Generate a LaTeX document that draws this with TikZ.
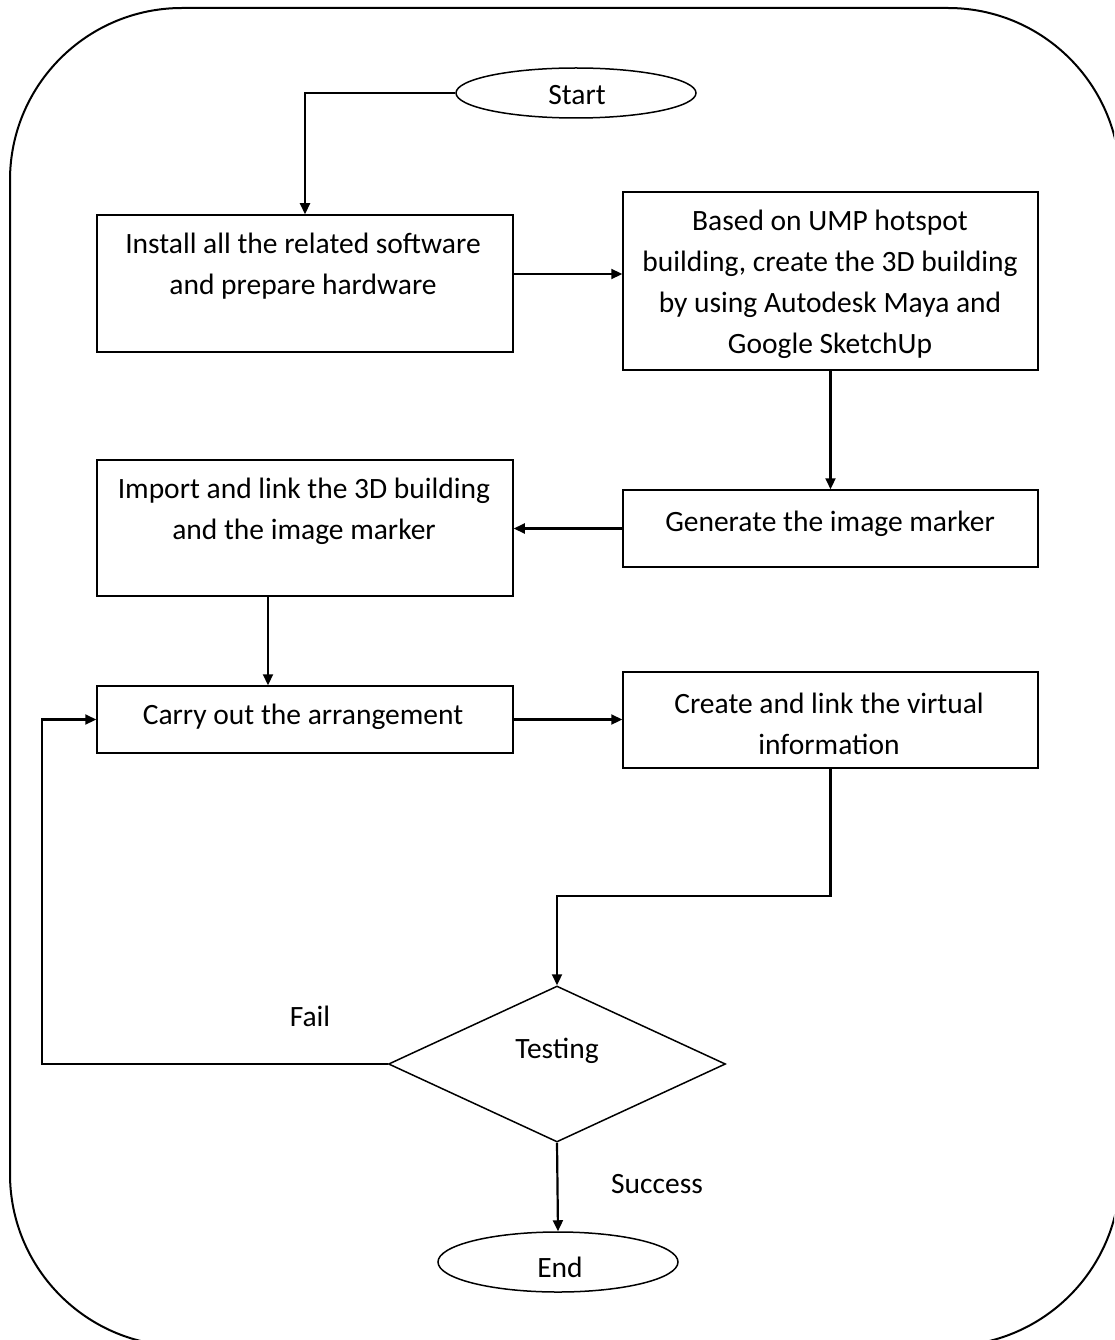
\documentclass[tikz,border=0pt]{standalone}
\usepackage{fontspec}
\setmainfont{Carlito}
\usetikzlibrary{shapes.geometric,arrows.meta}
\begin{document}
\begin{tikzpicture}[x=1pt,y=-1pt,
  box/.style={draw,line width=1.5pt,rectangle,inner sep=0pt},
  term/.style={draw,line width=1.5pt,ellipse,inner sep=0pt,minimum width=240pt},
  txt/.style={align=center,font=\fontsize{29.5}{41}\selectfont,inner sep=0pt},
  arr/.style={line width=2.2pt,-{Triangle[length=11pt,width=10pt]}},
  ln/.style={line width=2.2pt}]
\useasboundingbox (0,0) rectangle (1114,1340);
\clip (0,0) rectangle (1114,1340);
\fill[white] (0,0) rectangle (1114,1340);
\draw[line width=2pt,rounded corners=172pt] (10,8) rectangle (1120,1346);

\node[term,minimum height=50pt] (start) at (576,93) {};
\node[txt] at (577,95) {Start};

\node[box,minimum width=416pt,minimum height=137pt] (b1) at (305,283.5) {};
\node[txt] at (303,266) {Install all the related software\\and prepare hardware};

\node[box,minimum width=415pt,minimum height=178pt] (b2) at (830.5,281) {};
\node[txt] at (830,284) {Based on UMP hotspot\\building, create the 3D building\\by using Autodesk Maya and\\Google SketchUp};

\node[box,minimum width=415pt,minimum height=77pt] (b3) at (830.5,528.5) {};
\node[txt] at (830,524) {Generate the image marker};

\node[box,minimum width=416pt,minimum height=136pt] (b4) at (305,528) {};
\node[txt] at (304,511) {Import and link the 3D building\\and the image marker};

\node[box,minimum width=416pt,minimum height=67pt] (b5) at (305,719.5) {};
\node[txt] at (303,717) {Carry out the arrangement};

\node[box,minimum width=415pt,minimum height=96pt] (b6) at (830.5,720) {};
\node[txt] at (829,724) {Create and link the virtual\\information};

\node[draw,line width=1.5pt,diamond,inner sep=0pt,minimum width=337pt,minimum height=156pt,shape aspect=2.16] (test) at (557,1064) {};
\node[txt] at (557,1051) {Testing};

\node[term,minimum height=60pt] (end) at (558,1262) {};
\node[txt] at (560,1267) {End};

\node[txt] (fail) at (310,1016) {Fail};
\node[txt] (succ) at (657,1184) {Success};

\draw[arr] (start.west) -| (b1.north);
\draw[arr] ([yshift=9.5pt]b1.east) -- ([yshift=9.5pt]b1.east -| b2.west);
\draw[arr] (b2.south) -- (b3.north);
\draw[arr] (b3.west) -- (b3.west -| b4.east);
\draw[arr] ([xshift=-37pt]b4.south) -- ([xshift=-37pt]b5.north);
\draw[arr] (b5.east) -- (b5.east -| b6.west);
\draw[arr] (b6.south) -- ++(0,127) -| (test.north);
\draw[arr] (test.west) -- ++(-346,0) |- (b5.west);
\draw[arr] (test.south) -- (end.north);
\end{tikzpicture}
\end{document}
